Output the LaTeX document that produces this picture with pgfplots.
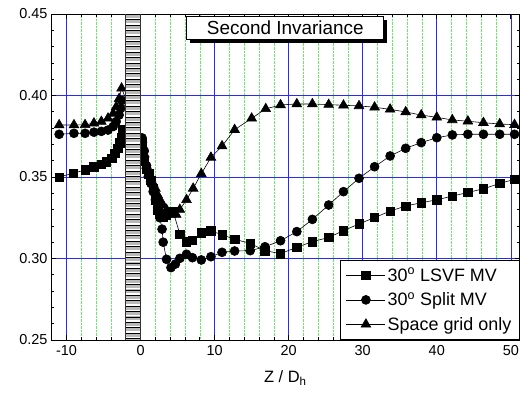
\documentclass[border=0pt]{standalone}
\usepackage{pgfplots}
\pgfplotsset{compat=1.18}
\usepackage{fontspec}
\setmainfont{Liberation Sans}
\usetikzlibrary{calc}
\definecolor{gridblue}{RGB}{40,40,255}
\definecolor{gridgreen}{RGB}{100,235,100}
\begin{document}
\begin{tikzpicture}
\begin{axis}[
  scale only axis, width=468.7bp, height=326bp,
  xmin=-12.1, xmax=51.2, ymin=0.25, ymax=0.45,
  xtick={-10,0,10,20,30,40,50}, minor x tick num=4,
  ytick={0.25,0.30,0.35,0.40,0.45}, minor y tick num=4,
  tick align=inside, major tick length=5bp, minor tick length=3bp,
  xtick pos=both, ytick pos=both,
  xmajorgrids, xminorgrids, ymajorgrids,
  major grid style={gridblue, line width=0.6pt},
  minor grid style={gridgreen, densely dotted, line width=0.6pt},
  axis line style={line width=0.9pt},
  every tick/.style={black, line width=0.7pt},
  /pgf/number format/assume math mode=true,
  yticklabel style={/pgf/number format/fixed, /pgf/number format/fixed zerofill, /pgf/number format/precision=2},
  ticklabel style={font=\fontsize{14.5}{16}\selectfont},
  xticklabel style={yshift=-2bp},
  xlabel={Z / D\textsubscript{h}},
  xlabel style={font=\fontsize{16.5}{18}\selectfont, yshift=-8bp},
  legend style={at={(1,0)}, anchor=south east, draw=black, line width=0.8pt, fill=white,
    font=\fontsize{18}{20}\selectfont, row sep=6bp, inner xsep=6bp, inner ysep=6bp,
    legend cell align=left},
  legend image code/.code={
    \draw[black, line width=0.6pt] (0bp,0bp) -- (39bp,0bp);
    \draw[#1, line width=0.6pt] plot coordinates {(19.5bp,0bp)};
  },
]
\addplot[black, line width=0.6pt, mark=square*, mark size=4.2bp, mark options={solid}] coordinates {
(-11.0,0.3500) (-9.1,0.3523) (-7.5,0.3543) (-6.3,0.3563) (-5.3,0.3578) (-4.6,0.3594) (-3.9,0.3615) (-3.5,0.3645) (-3.1,0.3675) (-2.8,0.3710) (-2.6,0.3740) (-2.5,0.3790)
(0.2,0.3710) (0.5,0.3600) (0.8,0.3550) (1.1,0.3520) (1.4,0.3480) (1.7,0.3430) (2.0,0.3360) (2.3,0.3300) (2.6,0.3270) (3.0,0.3256) (3.5,0.3265) (4.4,0.3287) (5.3,0.3150) (6.2,0.3103) (7.0,0.3110) (8.2,0.3158) (9.5,0.3169) (11.0,0.3146) (12.7,0.3118) (14.8,0.3093) (16.8,0.3048) (18.9,0.3030) (21.1,0.3069) (23.2,0.3103) (25.4,0.3129) (27.4,0.3171) (29.5,0.3212) (31.6,0.3251) (33.7,0.3291) (35.8,0.3322) (37.9,0.3342) (40.0,0.3360) (42.1,0.3383) (44.2,0.3405) (46.3,0.3428) (48.5,0.3460) (50.5,0.3486)
};
\addlegendentry{30\textsuperscript{o} LSVF MV}
\addplot[black, line width=0.6pt, mark=*, mark size=4.5bp, mark options={solid}] coordinates {
(-11.0,0.3762) (-9.0,0.3768) (-7.5,0.3768) (-6.3,0.3775) (-5.3,0.3780) (-4.4,0.3788) (-3.7,0.3810) (-3.3,0.3840) (-2.9,0.3880) (-2.7,0.3920) (-2.55,0.3970)
(0.2,0.3740) (0.5,0.3660) (0.8,0.3570) (1.1,0.3510) (1.4,0.3460) (1.7,0.3410) (2.0,0.3360) (2.3,0.3310) (2.6,0.3250) (2.9,0.3180) (3.05,0.3100) (3.5,0.2995) (4.1,0.2944) (4.7,0.2966) (5.3,0.3001) (6.2,0.3026) (7.0,0.3005) (8.2,0.2991) (9.5,0.3011) (11.0,0.3038) (12.7,0.3046) (14.8,0.3048) (16.8,0.3072) (18.9,0.3109) (21.1,0.3165) (23.2,0.3240) (25.4,0.3328) (27.4,0.3410) (29.5,0.3492) (31.6,0.3563) (33.7,0.3629) (35.8,0.3676) (37.9,0.3711) (40.0,0.3741) (42.1,0.3758) (44.2,0.3762) (46.3,0.3762) (48.5,0.3762) (50.5,0.3762)
};
\addlegendentry{30\textsuperscript{o} Split MV}
\addplot[black, line width=0.6pt, mark=triangle*, mark size=5.6bp, mark options={solid}] coordinates {
(-11.0,0.3819) (-9.0,0.3819) (-7.5,0.3820) (-6.3,0.3830) (-5.3,0.3840) (-4.4,0.3860) (-3.7,0.3890) (-3.3,0.3930) (-2.9,0.3980) (-2.57,0.4044)
(0.2,0.3730) (0.5,0.3640) (0.8,0.3570) (1.1,0.3520) (1.4,0.3490) (1.7,0.3460) (2.0,0.3430) (2.3,0.3390) (2.6,0.3360) (3.0,0.3330) (3.5,0.3300) (4.1,0.3270) (4.8,0.3270) (5.3,0.3300) (6.2,0.3360) (7.1,0.3430) (8.2,0.3520) (9.5,0.3620) (11.0,0.3690) (12.7,0.3790) (15.0,0.3860) (16.9,0.3918) (18.9,0.3942) (21.1,0.3948) (23.2,0.3948) (25.4,0.3944) (27.4,0.3940) (29.5,0.3936) (31.6,0.3928) (33.7,0.3915) (35.8,0.3899) (37.9,0.3880) (40.0,0.3866) (42.1,0.3850) (44.2,0.3842) (46.3,0.3833) (48.5,0.3825) (50.5,0.3821)
};
\addlegendentry{Space grid only}
\coordinate (hl) at (axis cs:-2,0.25);
\coordinate (hr) at (axis cs:0,0.45);
\coordinate (tb) at (rel axis cs:0.5,1);
\end{axis}
% hatched block
\fill[gray!55] (hl) rectangle (hr);
\begin{scope}
\clip (hl) rectangle (hr);
\foreach \i in {0,...,62} {
  \draw[white, line width=1.3pt] ($(hl)+(0,\i*5.4bp+2.7bp)$) -- ++(30bp,0);
  \draw[black, line width=0.6pt] ($(hl)+(0,\i*5.4bp+1.6bp)$) -- ++(30bp,0);
}
\end{scope}
\draw[black!80, line width=0.9pt] (hl) -- (hl |- hr);
\draw[black!80, line width=0.9pt] (hr) -- (hr |- hl);
% title box with shadow
\node[fill=black, minimum width=197bp, minimum height=23bp, anchor=north] at ($(tb)+(3.5bp,-5.5bp)$) {};
\node[fill=white, draw=black, line width=0.8pt, minimum width=197bp, minimum height=23bp, anchor=north, inner sep=0pt, font=\fontsize{19}{21}\selectfont] at ($(tb)+(0,-2bp)$) {Second Invariance};
\path ([shift={(-51bp,-54bp)}]current axis.south west) rectangle ([shift={(9.3bp,14bp)}]current axis.north east);
\end{tikzpicture}
\end{document}
